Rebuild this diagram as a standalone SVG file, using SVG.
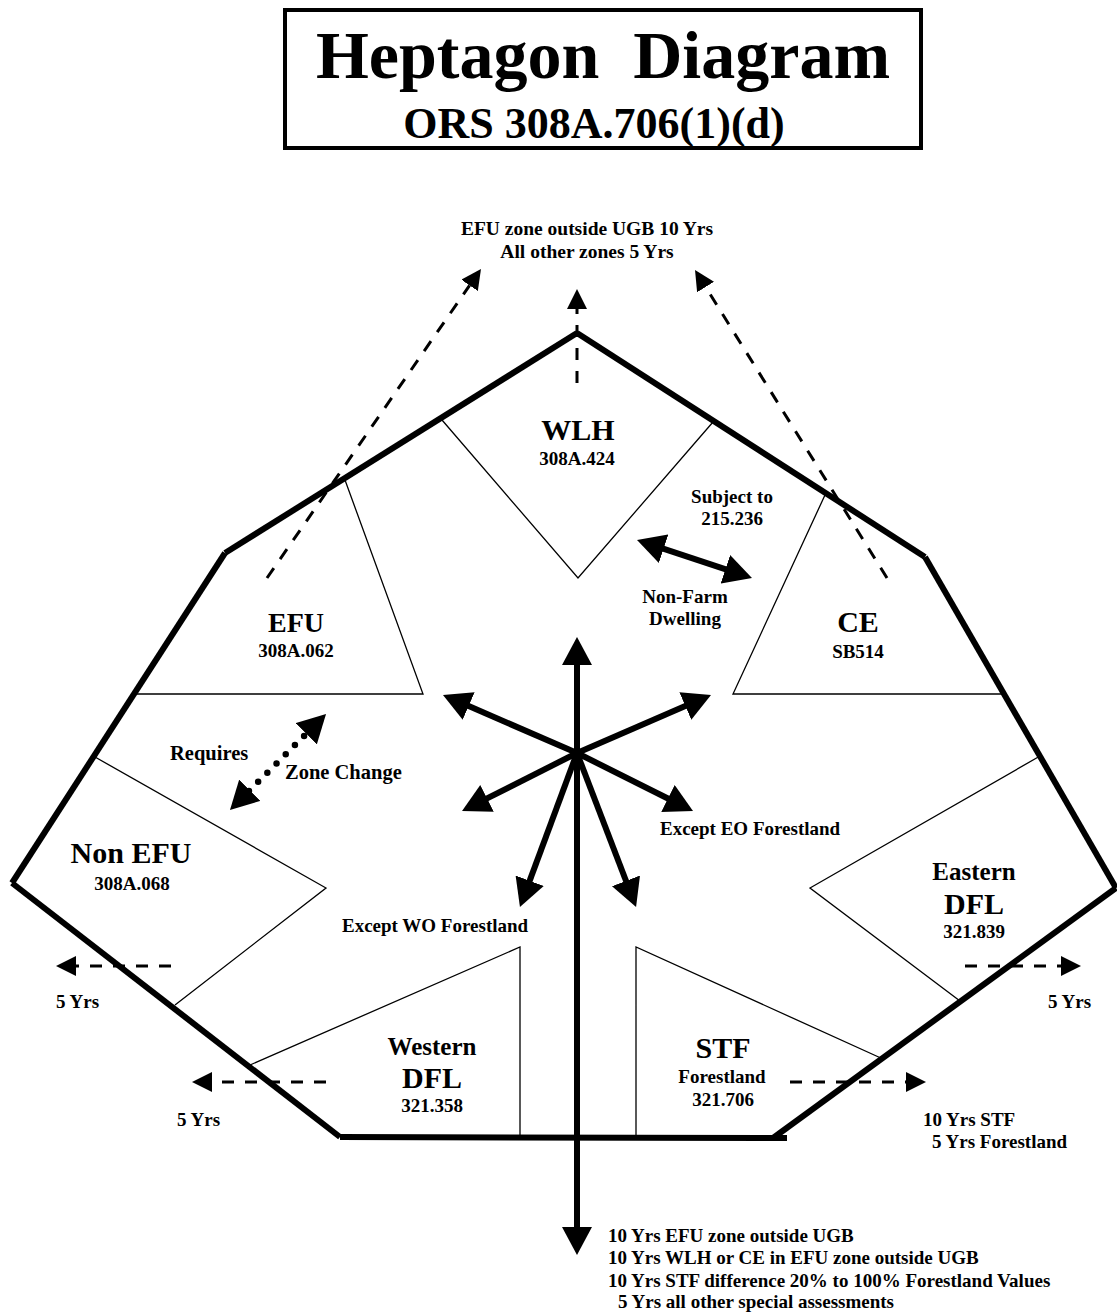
<svg xmlns="http://www.w3.org/2000/svg" width="1117" height="1313" viewBox="0 0 1117 1313">
<style>
.thick{stroke:#000;stroke-width:6;fill:none;stroke-linecap:butt}
.thin{stroke:#000;stroke-width:1.3;fill:none}
.arr{stroke:#000;stroke-width:6;fill:none}
.dash{stroke:#000;stroke-width:3;stroke-dasharray:12 11;fill:none}
.dot{stroke:#000;stroke-width:6.5;stroke-linecap:round;stroke-dasharray:0 13;fill:none}
text{font-family:"Liberation Serif","Times New Roman",serif;font-weight:bold;fill:#000}
.c{text-anchor:middle}
.big{font-size:30px}
.mid{font-size:25px}
.sm{font-size:19px}
</style>
<defs>
<marker id="bh" markerUnits="userSpaceOnUse" markerWidth="28" markerHeight="30" viewBox="0 0 28 30" refX="10" refY="15" orient="auto-start-reverse"><path d="M0,0 L28,15 L0,30 z"/></marker>
<marker id="sh" markerUnits="userSpaceOnUse" markerWidth="20" markerHeight="20" viewBox="0 0 20 20" refX="0" refY="10" orient="auto"><path d="M0,0 L20,10 L0,20 z"/></marker>
</defs>
<rect width="1117" height="1313" fill="#fff"/>
<g id="title">
<rect x="285" y="10" width="636" height="138" fill="none" stroke="#000" stroke-width="4"/>
<text x="603" y="78" class="c" font-size="68" xml:space="preserve">Heptagon  Diagram</text>
<text x="594" y="138" class="c" font-size="44">ORS 308A.706(1)(d)</text>
</g>
<g id="heptagon">
<line class="thick" x1="577" y1="333" x2="225" y2="553"/>
<line class="thick" x1="225" y1="553" x2="12" y2="883"/>
<line class="thick" x1="12" y1="883" x2="340" y2="1137"/>
<line class="thick" x1="340" y1="1137" x2="787" y2="1138"/>
<line class="thick" x1="773" y1="1138" x2="1116" y2="888"/>
<line class="thick" x1="1116" y1="888" x2="925" y2="557"/>
<line class="thick" x1="925" y1="557" x2="577" y2="333"/>
</g>
<g id="WLH">
<polyline class="thin" points="442,420 578,578 713,422"/>
<text x="578" y="440" class="c big">WLH</text>
<text x="577" y="465" class="c sm">308A.424</text>
</g>
<g id="EFU">
<polyline class="thin" points="345,480 423,694 136,694"/>
<text x="296" y="632" class="c" font-size="28">EFU</text>
<text x="296" y="657" class="c sm">308A.062</text>
</g>
<g id="CE">
<polyline class="thin" points="825,495 733,694 1004,694"/>
<text x="858" y="632" class="c big">CE</text>
<text x="858" y="658" class="c sm">SB514</text>
</g>
<g id="NonEFU">
<polyline class="thin" points="95,757 326,888 175,1005"/>
<text x="131" y="863" class="c big">Non EFU</text>
<text x="132" y="890" class="c sm">308A.068</text>
</g>
<g id="EasternDFL">
<polyline class="thin" points="1040,756 810,888 960,1001"/>
<text x="974" y="880" class="c mid">Eastern</text>
<text x="974" y="914" class="c big">DFL</text>
<text x="974" y="938" class="c sm">321.839</text>
</g>
<g id="WesternDFL">
<polyline class="thin" points="250,1065 520,947 520,1136"/>
<text x="432" y="1055" class="c mid">Western</text>
<text x="432" y="1088" class="c big">DFL</text>
<text x="432" y="1112" class="c sm">321.358</text>
</g>
<g id="STF">
<polyline class="thin" points="883,1059 636,947 636,1136"/>
<text x="723" y="1058" class="c big">STF</text>
<text x="722" y="1083" class="c sm">Forestland</text>
<text x="723" y="1106" class="c sm">321.706</text>
</g>
<g id="connectors">
<line class="arr" x1="577" y1="655" x2="577" y2="1237" marker-start="url(#bh)" marker-end="url(#bh)"/>
<line class="arr" x1="577" y1="753" x2="459.5" y2="702.1" marker-end="url(#bh)"/>
<line class="arr" x1="577" y1="753" x2="694.5" y2="702.1" marker-end="url(#bh)"/>
<line class="arr" x1="577" y1="753" x2="478.1" y2="802.9" marker-end="url(#bh)"/>
<line class="arr" x1="577" y1="753" x2="676.9" y2="803" marker-end="url(#bh)"/>
<line class="arr" x1="577" y1="753" x2="526.2" y2="890.1" marker-end="url(#bh)"/>
<line class="arr" x1="577" y1="753" x2="629.6" y2="890.2" marker-end="url(#bh)"/>
<line class="arr" stroke-width="5" x1="654.1" y1="545.6" x2="734.9" y2="572.4" marker-start="url(#bh)" marker-end="url(#bh)"/>
<line class="dot" x1="313.3" y1="726.7" x2="242.7" y2="797.3" marker-start="url(#bh)" marker-end="url(#bh)"/>
<line class="dash" x1="267" y1="578" x2="469.6" y2="285.4" marker-end="url(#sh)"/>
<line class="dash" x1="577" y1="383" x2="577" y2="309" marker-end="url(#sh)"/>
<line class="dash" x1="887" y1="578" x2="705.6" y2="287" marker-end="url(#sh)"/>
<line class="dash" x1="171" y1="966" x2="76" y2="966" marker-end="url(#sh)"/>
<line class="dash" x1="326" y1="1082" x2="212" y2="1082" marker-end="url(#sh)"/>
<line class="dash" x1="965" y1="966" x2="1061" y2="966" marker-end="url(#sh)"/>
<line class="dash" x1="790" y1="1082" x2="906" y2="1082" marker-end="url(#sh)"/>
</g>
<g id="labels">
<text x="587" y="235" class="c" font-size="19.5">EFU zone outside UGB 10 Yrs</text>
<text x="587" y="258" class="c" font-size="19.5">All other zones 5 Yrs</text>
<text x="732" y="503" class="c sm">Subject to</text>
<text x="732" y="525" class="c sm">215.236</text>
<text x="685" y="603" class="c sm">Non-Farm</text>
<text x="685" y="625" class="c sm">Dwelling</text>
<text x="170" y="760" font-size="20.5">Requires</text>
<text x="285" y="779" font-size="20.5">Zone Change</text>
<text x="660" y="835" class="sm">Except EO Forestland</text>
<text x="342" y="932" class="sm">Except WO Forestland</text>
<text x="56" y="1008" class="sm">5 Yrs</text>
<text x="177" y="1126" class="sm">5 Yrs</text>
<text x="1048" y="1008" class="sm">5 Yrs</text>
<text x="923" y="1126" class="sm">10 Yrs STF</text>
<text x="932" y="1148" class="sm">5 Yrs Forestland</text>
<text x="608" y="1242" class="sm">10 Yrs EFU zone outside UGB</text>
<text x="608" y="1264" class="sm">10 Yrs WLH or CE in EFU zone outside UGB</text>
<text x="608" y="1287" class="sm">10 Yrs STF difference 20% to 100% Forestland Values</text>
<text x="618" y="1308" class="sm">5 Yrs all other special assessments</text>
</g>
</svg>
